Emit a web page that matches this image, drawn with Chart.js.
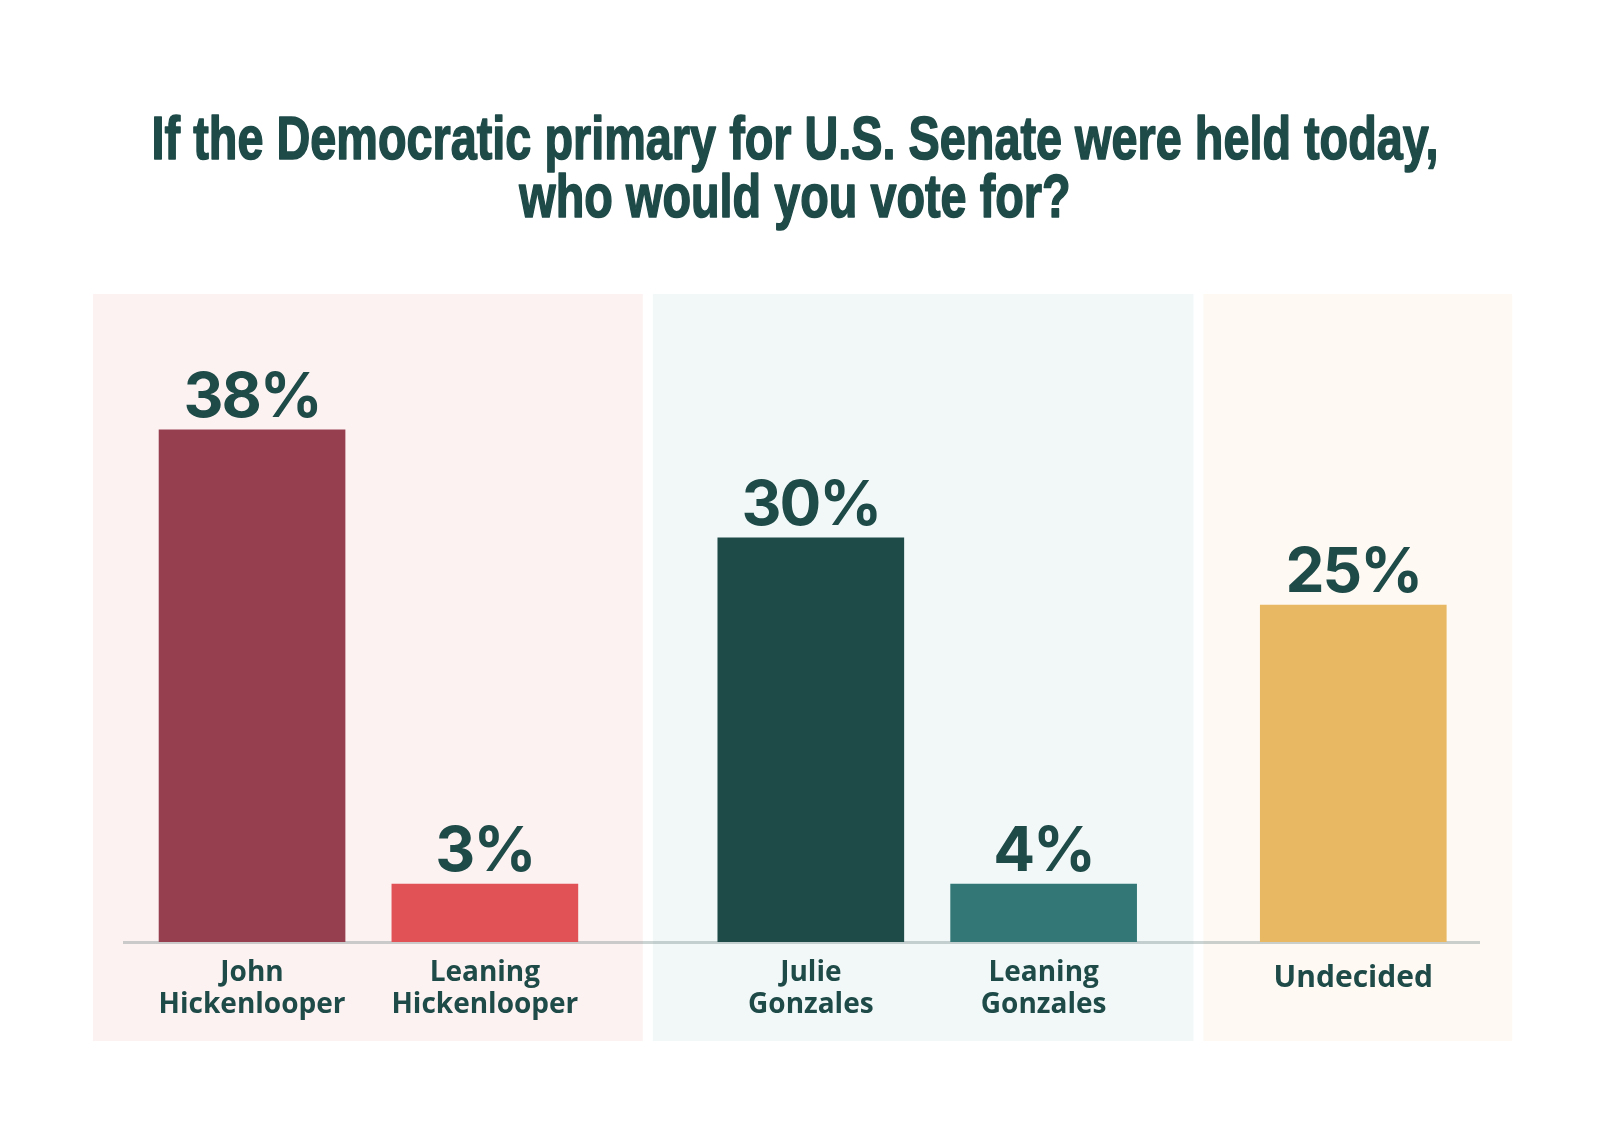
<!DOCTYPE html>
<html>
<head>
<meta charset="utf-8">
<script src="https://cdn.jsdelivr.net/npm/chart.js@4.4.1/dist/chart.umd.min.js"></script>
<style>
    html, body { margin: 0; padding: 0; background: #ffffff; }
    #wrap { width: 1618px; height: 1128px; position: relative; }
</style>
</head>
<body>
<div id="wrap"><canvas id="primaryChart"></canvas></div>
<script>
// DATA
const titleLines = [
    "If the Democratic primary for U.S. Senate were held today,",
    "who would you vote for?"
]
const categories = [
    ["John", "Hickenlooper"],
    ["Leaning", "Hickenlooper"],
    ["Julie", "Gonzales"],
    ["Leaning", "Gonzales"],
    ["Undecided"]
]
const shares = [38, 3, 30, 4, 25]
const barColors = ["#963f4e", "#e05256", "#1e4a48", "#337877", "#e9b862"]

// groups of bars that share a tinted panel
const panelGroups = [[0, 1], [2, 3], [4]]
const panelColors = ["#fdf2f2", "#f2f8f8", "#fef9f3"]

// LAYOUT (bar slots on the x scale, not data)
const barSlots = [1, 2, 3.4, 4.4, 5.73]

const TEXT = "#1e4a48"

// condensed bold title: canvas squeezes a bold face to a narrower width
const titlePlugin = {
    id: "condensedTitle",
    afterDraw(chart) {
        const ctx = chart.ctx
        const centerX = 795
        const baselines = [159, 217]
        const condense = 0.755
        ctx.save()
        ctx.fillStyle = TEXT
        ctx.strokeStyle = TEXT
        ctx.lineWidth = 1.6
        ctx.lineJoin = "round"
        ctx.font = "bold 62px 'Liberation Sans'"
        ctx.textAlign = "center"
        ctx.textBaseline = "alphabetic"
        titleLines.forEach((line, i) => {
            const w = ctx.measureText(line).width * condense
            ctx.fillText(line, centerX, baselines[i], w)
            ctx.strokeText(line, centerX, baselines[i], w)
        })
        ctx.restore()
    }
}

const panelsPlugin = {
    id: "panels",
    beforeDraw(chart) {
        const ctx = chart.ctx
        const x = chart.scales.x
        const half = 93
        const outer = 66
        const gap = 10
        const top = 294
        const bottom = 1041

        const spans = panelGroups.map(g => [
            x.getPixelForValue(barSlots[g[0]]) - half,
            x.getPixelForValue(barSlots[g[g.length - 1]]) + half
        ])

        ctx.save()
        spans.forEach((s, i) => {
            let left = s[0] - outer
            let right = s[1] + outer
            if (i > 0) left = (spans[i - 1][1] + s[0]) / 2 + gap / 2
            if (i < spans.length - 1) right = (s[1] + spans[i + 1][0]) / 2 - gap / 2
            ctx.fillStyle = panelColors[i]
            ctx.fillRect(left, top, right - left, bottom - top)
        })
        ctx.restore()
    }
}

const valueLabels = {
    id: "valueLabels",
    afterDatasetsDraw(chart) {
        const ctx = chart.ctx
        const meta = chart.getDatasetMeta(0)
        ctx.save()
        ctx.fillStyle = TEXT
        ctx.font = "700 62px Inter"
        ctx.letterSpacing = "-2px"
        ctx.textAlign = "center"
        ctx.textBaseline = "alphabetic"
        meta.data.forEach((bar, i) => {
            ctx.fillText(shares[i] + "%", bar.x, bar.y - 13)
        })
        ctx.restore()
    }
}

new Chart(
    document.getElementById("primaryChart"),
    {
        type: "bar",

        data: {
            datasets: [{
                data: barSlots.map((slot, i) => ({ x: slot, y: shares[i] })),
                backgroundColor: barColors,
                barThickness: 186,
                minBarLength: 58,
                borderWidth: 0
            }]
        },

        options: {
            responsive: true,
            maintainAspectRatio: false,
            animation: false,
            layout: {
                padding: { top: 403, left: 124, right: 139, bottom: 100 }
            },
            plugins: {
                legend: { display: false },
                tooltip: { enabled: false },
                title: { display: false }
            },
            scales: {
                x: {
                    type: "linear",
                    offset: false,
                    min: 0.45,
                    max: 6.27,
                    z: 1,
                    grid: { display: false },
                    border: {
                        display: true,
                        color: "rgba(110,130,130,0.35)",
                        width: 3
                    },
                    afterBuildTicks(axis) {
                        axis.ticks = barSlots.map(v => ({ value: v }))
                    },
                    ticks: {
                        autoSkip: false,
                        maxRotation: 0,
                        padding: 7,
                        color: TEXT,
                        font: (c) => c.index === 4
                            ? { family: "'Open Sans'", size: 30, weight: "700", lineHeight: "42px" }
                            : { family: "'Open Sans'", size: 28, weight: "700", lineHeight: "32px" },
                        callback: (value, index) => categories[index]
                    }
                },
                y: {
                    display: false,
                    min: 0,
                    max: 40
                }
            }
        },

        plugins: [panelsPlugin, valueLabels, titlePlugin]
    }
)
</script>
</body>
</html>
